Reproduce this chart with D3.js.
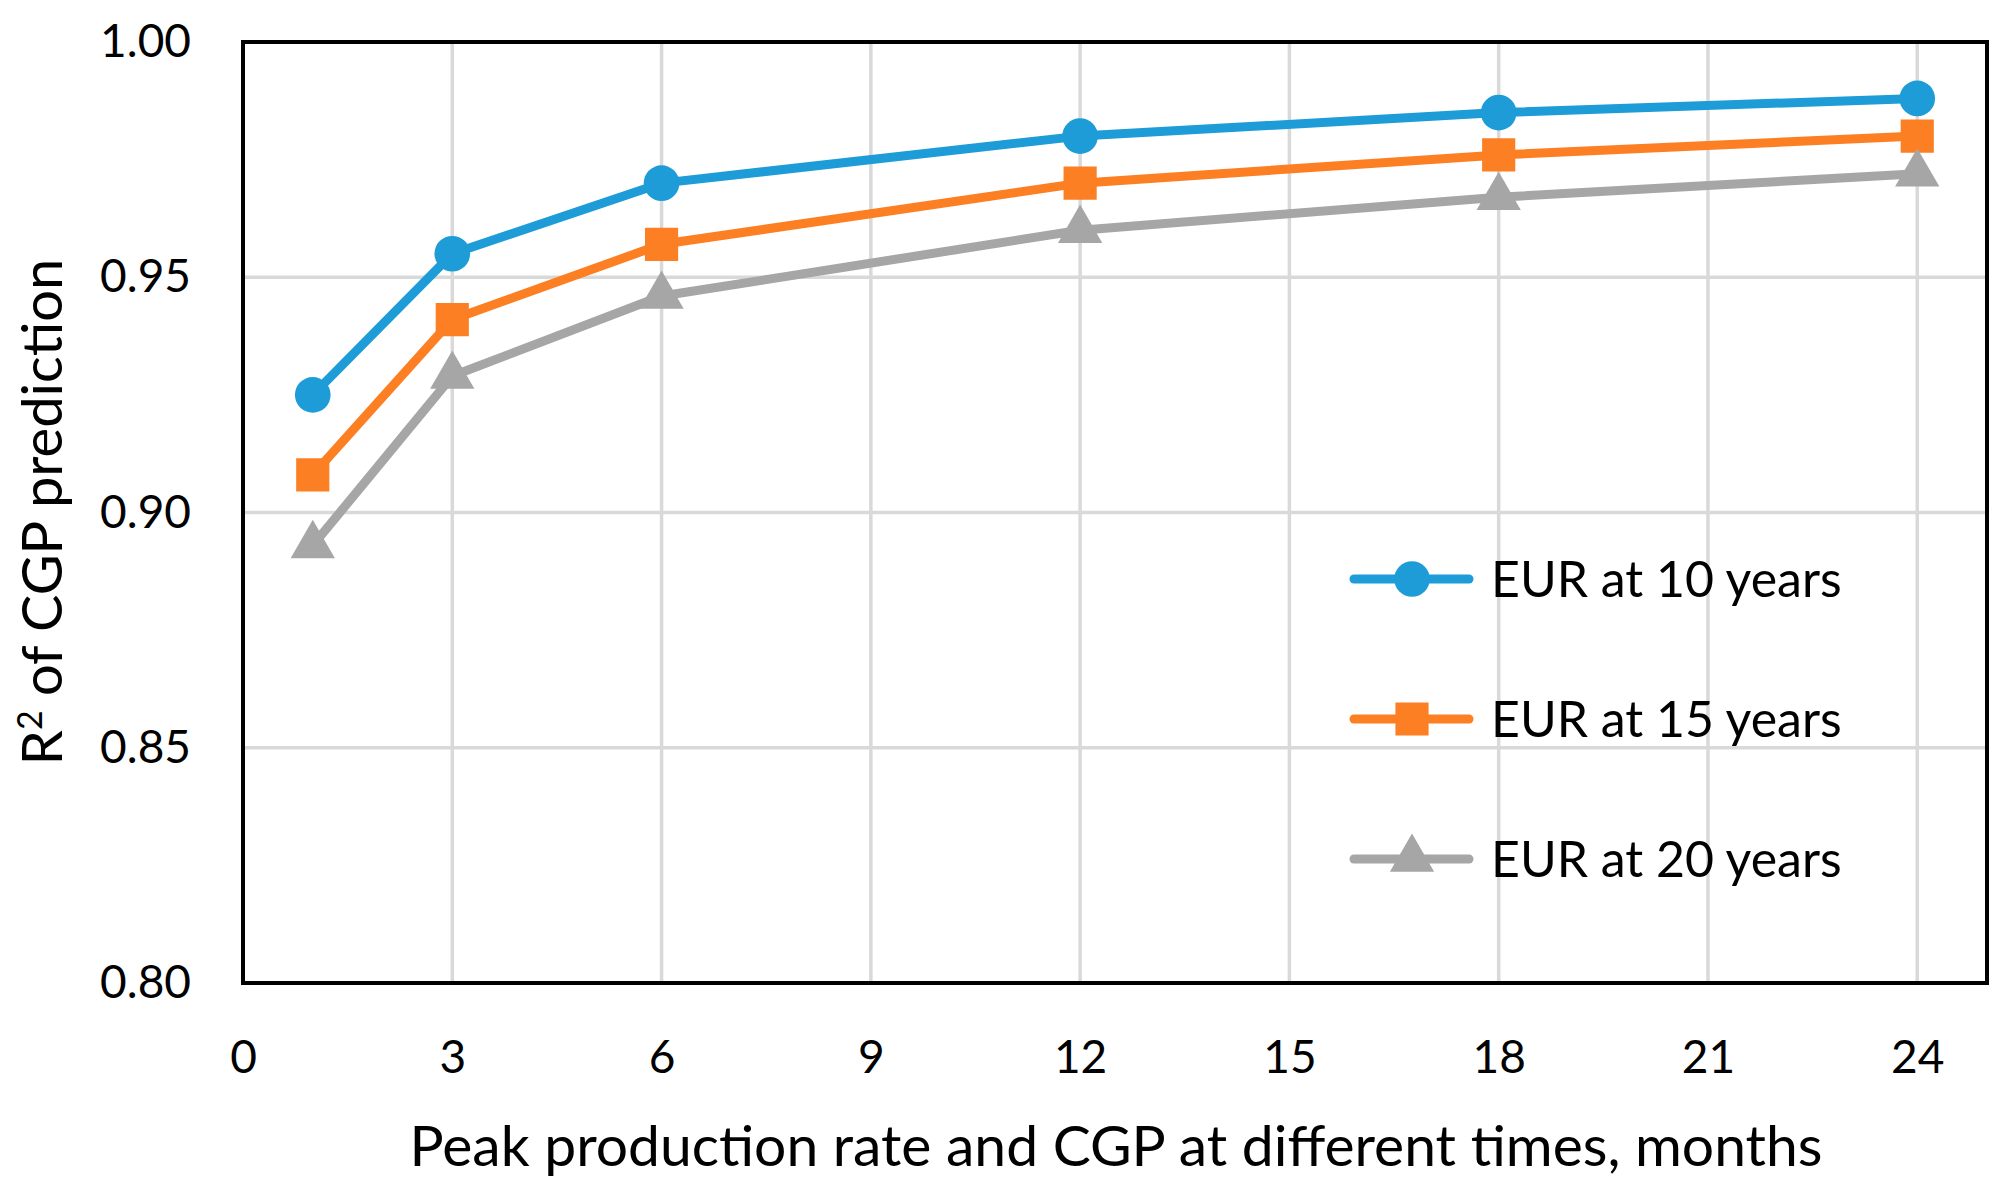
<!DOCTYPE html>
<html>
<head>
<meta charset="utf-8">
<script src="https://cdn.jsdelivr.net/npm/d3@7"></script>
<style>
  body { margin: 0; background: #fff; }
  text { font-family: Lato, "Open Sans", sans-serif; fill: #000; }
</style>
</head>
<body>
<div id="chart"></div>
<script>
// data
var months = [1, 3, 6, 12, 18, 24];
var eur10 = [0.925, 0.955, 0.970, 0.980, 0.985, 0.988];
var eur15 = [0.908, 0.941, 0.957, 0.970, 0.976, 0.980];
var eur20 = [0.893, 0.929, 0.946, 0.960, 0.967, 0.972];
var seriesNames = ["EUR at 10 years", "EUR at 15 years", "EUR at 20 years"];
var xTicks = [0, 3, 6, 9, 12, 15, 18, 21, 24];
var yTicks = [0.80, 0.85, 0.90, 0.95, 1.00];

var colors = ["#1e9cd7", "#fd7f23", "#a6a6a6"];
var symbols = [d3.symbolCircle, d3.symbolSquare, d3.symbolTriangle];
var sizes = [1000, 1100, 850];

// dimensions
var margin = { top: 42, right: 20, bottom: 211, left: 243 },
    width = 1987 - margin.left,
    height = 983 - margin.top;

var svg = d3.select("#chart")
    .append("svg")
    .attr("width", 2007)
    .attr("height", 1194)
    .append("g")
    .attr("transform", "translate(" + margin.left + "," + margin.top + ")");

var x = d3.scaleLinear().domain([0, 25]).range([0, width]);
var y = d3.scaleLinear().domain([0.80, 1.00]).range([height, 0]);

// gridlines
svg.append("g")
    .selectAll("line.vg")
    .data(xTicks.filter(function (d) { return d > 0; }))
    .enter().append("line")
    .attr("x1", function (d) { return x(d); })
    .attr("x2", function (d) { return x(d); })
    .attr("y1", 0).attr("y2", height)
    .attr("stroke", "#d9d9d9").attr("stroke-width", 3.5);

svg.append("g")
    .selectAll("line.hg")
    .data(yTicks.filter(function (d) { return d > 0.8 && d < 1; }))
    .enter().append("line")
    .attr("x1", 0).attr("x2", width)
    .attr("y1", function (d) { return y(d); })
    .attr("y2", function (d) { return y(d); })
    .attr("stroke", "#d9d9d9").attr("stroke-width", 3.5);

// axes (labels only, frame drawn separately)
var xAxis = svg.append("g")
    .attr("transform", "translate(0," + height + ")")
    .call(d3.axisBottom(x).tickValues(xTicks).tickSize(0).tickPadding(57).tickFormat(d3.format("d")));
xAxis.select(".domain").remove();
xAxis.selectAll("text").style("font-size", "46px");

var yAxis = svg.append("g")
    .call(d3.axisLeft(y).tickValues(yTicks).tickSize(0).tickPadding(52).tickFormat(d3.format(".2f")));
yAxis.select(".domain").remove();
yAxis.selectAll("text").style("font-size", "46px");

// frame
svg.append("rect")
    .attr("x", 0).attr("y", 0)
    .attr("width", width).attr("height", height)
    .attr("fill", "none").attr("stroke", "#000").attr("stroke-width", 4);

// series
var allSeries = [eur10, eur15, eur20];
var line = d3.line()
    .x(function (d) { return x(d[0]); })
    .y(function (d) { return y(d[1]); });

allSeries.forEach(function (vals, i) {
    var pts = months.map(function (m, j) { return [m, vals[j]]; });
    svg.append("path")
        .datum(pts)
        .attr("fill", "none")
        .attr("stroke", colors[i])
        .attr("stroke-width", 9)
        .attr("stroke-linejoin", "round")
        .attr("d", line);
    svg.selectAll(".m" + i)
        .data(pts)
        .enter().append("path")
        .attr("transform", function (d) { return "translate(" + x(d[0]) + "," + y(d[1]) + ")"; })
        .attr("d", d3.symbol().type(symbols[i]).size(sizes[i]))
        .attr("fill", colors[i]);
});

// legend
var legend = svg.append("g").attr("transform", "translate(" + (1354 - margin.left) + ",0)");
seriesNames.forEach(function (name, i) {
    var ly = 579 + i * 140 - margin.top;
    legend.append("line")
        .attr("x1", 0).attr("x2", 115)
        .attr("y1", ly).attr("y2", ly)
        .attr("stroke", colors[i]).attr("stroke-width", 9)
        .attr("stroke-linecap", "round");
    legend.append("path")
        .attr("transform", "translate(58," + ly + ")")
        .attr("d", d3.symbol().type(symbols[i]).size(sizes[i]))
        .attr("fill", colors[i]);
    legend.append("text")
        .attr("x", 137).attr("y", ly)
        .attr("dy", "0.35em")
        .style("font-size", "50px")
        .text(name);
});

// x axis title
svg.append("text")
    .attr("text-anchor", "middle")
    .attr("x", 1116 - margin.left)
    .attr("y", 1146 - margin.top)
    .attr("dy", "0.35em")
    .style("font-size", "57px")
    .text("Peak production rate and CGP at different times, months");

// y axis title
var yt = svg.append("text")
    .attr("text-anchor", "middle")
    .attr("transform", "translate(" + (42 - margin.left) + "," + (512 - margin.top) + ") rotate(-90)")
    .attr("dy", "0.35em")
    .style("font-size", "56px");
yt.append("tspan").text("R");
yt.append("tspan").attr("dy", "-20").style("font-size", "34px").text("2");
yt.append("tspan").attr("dy", "20").text(" of CGP prediction");
</script>
</body>
</html>
